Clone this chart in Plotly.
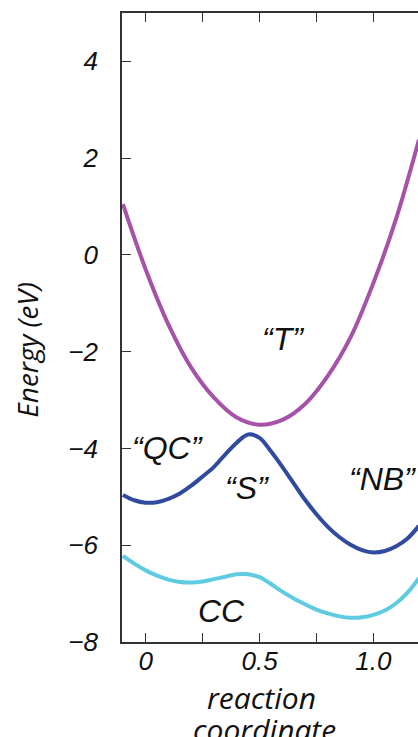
import plotly.graph_objects as go

# reaction coordinate sample points
x_T = [-0.1, 0.0, 0.1, 0.2, 0.3, 0.4, 0.5, 0.6, 0.7, 0.8, 0.9, 1.0, 1.1, 1.2]
e_T = [1.05, -0.3, -1.44, -2.33, -2.95, -3.36, -3.51, -3.41, -3.08, -2.5, -1.7, -0.58, 0.75, 2.38]

x_S = [-0.1, -0.05, 0.0, 0.05, 0.1, 0.15, 0.2, 0.25, 0.3, 0.35, 0.4, 0.45, 0.5, 0.55,
       0.6, 0.65, 0.7, 0.75, 0.8, 0.85, 0.9, 0.95, 1.0, 1.05, 1.1, 1.15, 1.2]
e_S = [-4.96, -5.07, -5.12, -5.11, -5.04, -4.93, -4.77, -4.58, -4.38, -4.12, -3.88, -3.71,
       -3.78, -4.06, -4.38, -4.72, -5.06, -5.36, -5.62, -5.83, -5.99, -6.1, -6.15, -6.12,
       -6.02, -5.86, -5.6]

x_CC = [-0.1, -0.05, 0.0, 0.05, 0.1, 0.15, 0.2, 0.25, 0.3, 0.35, 0.4, 0.45, 0.5, 0.55,
        0.6, 0.65, 0.7, 0.75, 0.8, 0.85, 0.9, 0.95, 1.0, 1.05, 1.1, 1.15, 1.2]
e_CC = [-6.22, -6.38, -6.52, -6.63, -6.71, -6.76, -6.77, -6.75, -6.7, -6.65, -6.6, -6.6,
        -6.66, -6.8, -6.96, -7.1, -7.22, -7.33, -7.41, -7.47, -7.5, -7.49, -7.44, -7.35,
        -7.2, -6.98, -6.68]

x_tickvals = [0, 0.25, 0.5, 0.75, 1.0]
x_ticktext = ["0", "", "0.5", "", "1.0"]
y_tickvals = [-8, -6, -4, -2, 0, 2, 4]
y_ticktext = ["\u22128", "\u22126", "\u22124", "\u22122", "0", "2", "4"]

label_text = ["\u201cT\u201d", "\u201cQC\u201d", "\u201cS\u201d", "\u201cNB\u201d", "CC"]
label_x = [0.603, 0.098, 0.445, 1.04, 0.335]
label_e = [-1.73, -4.0, -4.81, -4.63, -7.35]

fig = go.Figure()
fig.add_trace(go.Scatter(x=x_T, y=e_T, mode="lines", line=dict(color="#a552a8", width=4, shape="spline"),
                         name="T", showlegend=False))
fig.add_trace(go.Scatter(x=x_S, y=e_S, mode="lines", line=dict(color="#2f4a9f", width=4, shape="spline"),
                         name="S", showlegend=False))
fig.add_trace(go.Scatter(x=x_CC, y=e_CC, mode="lines", line=dict(color="#5ecbe0", width=4, shape="spline"),
                         name="CC", showlegend=False))

for t, lx, le in zip(label_text, label_x, label_e):
    fig.add_annotation(x=lx, y=le, text=t, showarrow=False, xanchor="center", yanchor="middle",
                       font=dict(family="Liberation Sans, Arial", size=32, color="#111", style="italic"))

title_font = dict(family="Open Sans", size=28, color="#111", style="italic")
fig.add_annotation(xref="paper", yref="paper", x=-0.322, y=(642 - 350) / 629, text="Energy (eV)",
                   textangle=-90, showarrow=False, xanchor="center", yanchor="middle", font=title_font)
fig.add_annotation(xref="x", yref="paper", x=0.51, y=(642 - 697) / 629, text="reaction",
                   showarrow=False, xanchor="center", yanchor="middle", font=dict(title_font, size=30))
fig.add_annotation(xref="x", yref="paper", x=0.52, y=(642 - 729) / 629, text="coordinate",
                   showarrow=False, xanchor="center", yanchor="middle", font=dict(title_font, size=30))

tick_font = dict(family="Liberation Sans, Arial", size=26, color="#111", style="italic")
fig.update_xaxes(range=[-0.104, 1.196], tickvals=x_tickvals, ticktext=x_ticktext, ticks="inside",
                 ticklen=9, tickwidth=1, tickcolor="#333", showline=True, linecolor="#333", linewidth=1.5,
                 mirror="ticks", showgrid=False, zeroline=False, tickfont=tick_font, ticklabelstandoff=-5)
fig.update_yaxes(range=[-8, 5], tickvals=y_tickvals, ticktext=y_ticktext, ticks="inside", ticklen=9,
                 tickwidth=1, tickcolor="#333", showline=True, linecolor="#333", linewidth=1.5, mirror=False,
                 showgrid=False, zeroline=False, tickfont=tick_font, ticklabelstandoff=17)
fig.update_layout(width=418, height=737, margin=dict(l=122, r=0, t=13, b=95),
                  plot_bgcolor="white", paper_bgcolor="white")
fig.write_html("out.html")
